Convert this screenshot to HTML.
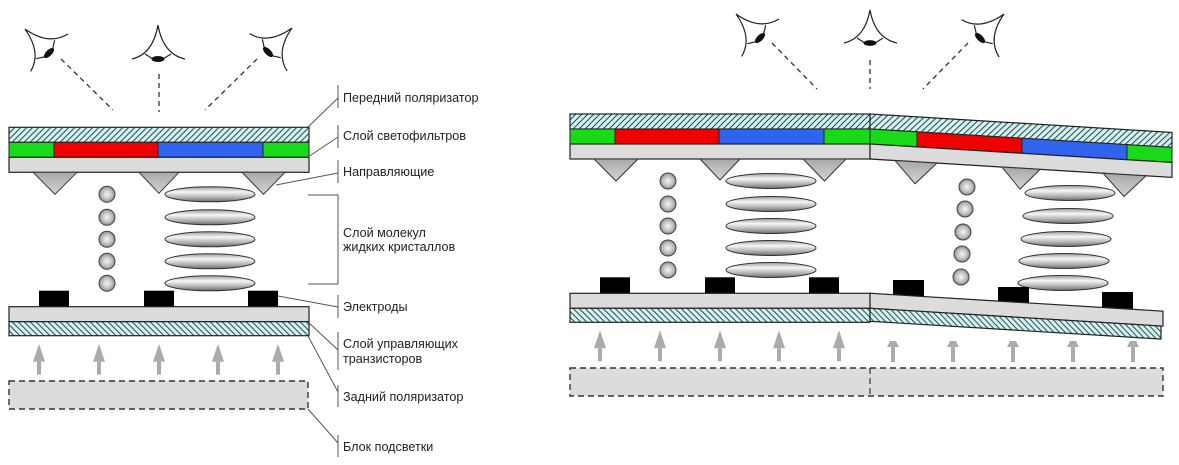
<!DOCTYPE html>
<html><head><meta charset="utf-8"><style>
html,body{margin:0;padding:0;background:#fff;}
svg{display:block;}
text{font-family:"Liberation Sans",Arial,sans-serif;font-size:12.6px;fill:#222;}
</style></head><body>
<svg width="1179" height="465" viewBox="0 0 1179 465" xmlns="http://www.w3.org/2000/svg">
<defs>
  <pattern id="hA" patternUnits="userSpaceOnUse" width="6" height="6">
    <rect width="6" height="6" fill="#cff4f4"/>
    <path d="M-1,1 L1,-1 M0,6 L6,0 M5,7 L7,5" stroke="#2a2a2a" stroke-width="0.9"/>
  </pattern>
  <pattern id="hB" patternUnits="userSpaceOnUse" width="6" height="6">
    <rect width="6" height="6" fill="#cff4f4"/>
    <path d="M-1,5 L1,7 M0,0 L6,6 M5,-1 L7,1" stroke="#2a2a2a" stroke-width="0.9"/>
  </pattern>
  <linearGradient id="tri" x1="0" y1="0" x2="0" y2="1">
    <stop offset="0" stop-color="#a9a9a9"/><stop offset="1" stop-color="#d4d4d4"/>
  </linearGradient>
  <radialGradient id="ball" cx="0.5" cy="0.5" r="0.55">
    <stop offset="0" stop-color="#f6f6f6"/><stop offset="0.6" stop-color="#bdbdbd"/><stop offset="1" stop-color="#7a7a7a"/>
  </radialGradient>
  <linearGradient id="ell" x1="0" y1="0" x2="0" y2="1">
    <stop offset="0" stop-color="#9c9c9c"/><stop offset="0.35" stop-color="#f6f6f6"/><stop offset="0.7" stop-color="#b4b4b4"/><stop offset="1" stop-color="#6c6c6c"/>
  </linearGradient>

  <g id="eye">
    <path d="M0,-34 Q-5,-5 -26,0 M0,-34 Q5,-5 27,0 M-13,-5 L-5,0 M13,-5 L5,0" fill="none" stroke="#222" stroke-width="1.2"/>
    <ellipse cx="0" cy="0" rx="6.5" ry="3" fill="#111"/>
  </g>

  <g id="topstack">
    <rect x="0" y="0" width="300" height="15" fill="url(#hA)" stroke="#222" stroke-width="1.2"/>
    <rect x="0" y="15" width="45" height="15" fill="#19d919" stroke="#222" stroke-width="1"/>
    <rect x="45" y="15" width="104" height="15" fill="#f00000" stroke="#222" stroke-width="1"/>
    <rect x="149" y="15" width="105" height="15" fill="#3064ef" stroke="#222" stroke-width="1"/>
    <rect x="254" y="15" width="46" height="15" fill="#19d919" stroke="#222" stroke-width="1"/>
    <rect x="0" y="30" width="300" height="15" fill="#dcdcdc" stroke="#222" stroke-width="1.2"/>
    <polygon points="24,45 68,45 46,67" fill="url(#tri)" stroke="#333" stroke-width="1"/>
    <polygon points="130,45 170,45 150,66" fill="url(#tri)" stroke="#333" stroke-width="1"/>
    <polygon points="233,45 276,45 254.5,67" fill="url(#tri)" stroke="#333" stroke-width="1"/>
  </g>

  <g id="lc">
    <circle cx="98" cy="67" r="8" fill="url(#ball)" stroke="#444" stroke-width="1"/>
    <circle cx="98" cy="90" r="8" fill="url(#ball)" stroke="#444" stroke-width="1"/>
    <circle cx="98" cy="112" r="8" fill="url(#ball)" stroke="#444" stroke-width="1"/>
    <circle cx="98" cy="134" r="8" fill="url(#ball)" stroke="#444" stroke-width="1"/>
    <circle cx="98" cy="156" r="8" fill="url(#ball)" stroke="#444" stroke-width="1"/>
    <ellipse cx="201" cy="67" rx="45" ry="7.5" fill="url(#ell)" stroke="#333" stroke-width="1"/>
    <ellipse cx="201" cy="90" rx="45" ry="7.5" fill="url(#ell)" stroke="#333" stroke-width="1"/>
    <ellipse cx="201" cy="112" rx="45" ry="7.5" fill="url(#ell)" stroke="#333" stroke-width="1"/>
    <ellipse cx="201" cy="134" rx="45" ry="7.5" fill="url(#ell)" stroke="#333" stroke-width="1"/>
    <ellipse cx="201" cy="156" rx="45" ry="7.5" fill="url(#ell)" stroke="#333" stroke-width="1"/>
  </g>

  <g id="bot">
    <rect x="30" y="-16" width="30" height="16" fill="#000"/>
    <rect x="135" y="-16" width="30" height="16" fill="#000"/>
    <rect x="239" y="-16" width="30" height="16" fill="#000"/>
    <rect x="0" y="0" width="300" height="15" fill="#dcdcdc" stroke="#222" stroke-width="1.2"/>
    <rect x="0" y="15" width="300" height="14" fill="url(#hB)" stroke="#222" stroke-width="1.2"/>
  </g>

  <g id="arrows" fill="#ababab">
    <polygon points="24,55 36,55 30,37"/><rect x="28" y="55" width="4" height="13"/>
    <polygon points="84,55 96,55 90,37"/><rect x="88" y="55" width="4" height="13"/>
    <polygon points="144,55 156,55 150,37"/><rect x="148" y="55" width="4" height="13"/>
    <polygon points="203,55 215,55 209,37"/><rect x="207" y="55" width="4" height="13"/>
    <polygon points="263,55 275,55 269,37"/><rect x="267" y="55" width="4" height="13"/>
  </g>
</defs>

<!-- ================= LEFT DIAGRAM ================= -->
<use href="#eye" transform="translate(49,53) rotate(-45)"/>
<use href="#eye" transform="translate(158,59)"/>
<use href="#eye" transform="translate(268,52) rotate(45)"/>
<g stroke="#333" stroke-width="1.3" stroke-dasharray="5,4" fill="none">
  <line x1="61" y1="59" x2="113" y2="110"/>
  <line x1="159" y1="74" x2="159" y2="112"/>
  <line x1="257" y1="59" x2="205" y2="110"/>
</g>

<use href="#topstack" transform="translate(9,127.3)"/>
<use href="#lc" transform="translate(9,127.3)"/>
<use href="#bot" transform="translate(9,306.7)"/>
<use href="#arrows" transform="translate(9,306.7)"/>
<rect x="9" y="381" width="299" height="28" fill="#dcdcdc" stroke="#333" stroke-width="1.4" stroke-dasharray="6,4"/>

<!-- labels -->
<g stroke="#555" stroke-width="1" fill="none">
  <line x1="338" y1="85" x2="338" y2="108"/>
  <line x1="338" y1="125" x2="338" y2="148"/>
  <line x1="338" y1="160" x2="338" y2="183"/>
  <polyline points="308,195 338,195 338,284 308,284"/>
  <line x1="338" y1="295" x2="338" y2="318"/>
  <line x1="338" y1="332" x2="338" y2="370"/>
  <line x1="338" y1="385" x2="338" y2="407"/>
  <line x1="338" y1="435" x2="338" y2="457"/>
  <line x1="308" y1="127" x2="338" y2="98"/>
  <line x1="308" y1="157" x2="338" y2="137"/>
  <line x1="276" y1="185" x2="338" y2="173"/>
  <line x1="278" y1="296" x2="338" y2="307"/>
  <line x1="308" y1="322" x2="338" y2="350"/>
  <line x1="308" y1="336" x2="338" y2="392"/>
  <line x1="308" y1="409" x2="338" y2="443"/>
</g>
<text x="343" y="102">Передний поляризатор</text>
<text x="343" y="140">Слой светофильтров</text>
<text x="343" y="176">Направляющие</text>
<text x="343" y="237">Слой молекул</text>
<text x="343" y="251">жидких кристаллов</text>
<text x="343" y="311">Электроды</text>
<text x="343" y="348">Слой управляющих</text>
<text x="343" y="363">транзисторов</text>
<text x="343" y="401">Задний поляризатор</text>
<text x="343" y="451">Блок подсветки</text>

<!-- ================= RIGHT DIAGRAM ================= -->
<use href="#eye" transform="translate(760,38) rotate(-45)"/>
<use href="#eye" transform="translate(870,43) scale(1,0.97)"/>
<use href="#eye" transform="translate(980,38) rotate(45)"/>
<g stroke="#333" stroke-width="1.3" stroke-dasharray="5,4" fill="none">
  <line x1="772" y1="43" x2="817" y2="89"/>
  <line x1="870" y1="60" x2="870" y2="89"/>
  <line x1="968" y1="43" x2="923" y2="89"/>
</g>

<!-- flat half -->
<use href="#topstack" transform="translate(570,114)"/>
<use href="#lc" transform="translate(570,114)"/>
<use href="#bot" transform="translate(570,293.3)"/>
<use href="#arrows" transform="translate(570,293.3)"/>

<!-- tilted half top -->
<g transform="matrix(1,0.061,0,1,870,114)">
  <rect x="0" y="0" width="302" height="15" fill="url(#hA)" stroke="#222" stroke-width="1.2"/>
  <rect x="0" y="15" width="47" height="15" fill="#19d919" stroke="#222" stroke-width="1"/>
  <rect x="47" y="15" width="105" height="15" fill="#f00000" stroke="#222" stroke-width="1"/>
  <rect x="152" y="15" width="105" height="15" fill="#3064ef" stroke="#222" stroke-width="1"/>
  <rect x="257" y="15" width="45" height="15" fill="#19d919" stroke="#222" stroke-width="1"/>
  <rect x="0" y="30" width="302" height="15" fill="#dcdcdc" stroke="#222" stroke-width="1.2"/>
  <polygon points="25,45 67,45 45,67" fill="url(#tri)" stroke="#333" stroke-width="1"/>
  <polygon points="132,45 170,45 150,66" fill="url(#tri)" stroke="#333" stroke-width="1"/>
  <polygon points="233,45 276,45 254,67" fill="url(#tri)" stroke="#333" stroke-width="1"/>
</g>

<!-- tilted half LC -->
<g stroke="#444" stroke-width="1" fill="url(#ball)">
  <circle cx="967" cy="187" r="8"/>
  <circle cx="965" cy="209" r="8"/>
  <circle cx="963" cy="232" r="8"/>
  <circle cx="962" cy="254" r="8"/>
  <circle cx="961" cy="277" r="8"/>
</g>
<g stroke="#333" stroke-width="1" fill="url(#ell)">
  <ellipse cx="1070" cy="193" rx="45" ry="7.5"/>
  <ellipse cx="1068" cy="216" rx="45" ry="7.5"/>
  <ellipse cx="1066" cy="239" rx="45" ry="7.5"/>
  <ellipse cx="1064" cy="261" rx="45" ry="7.5"/>
  <ellipse cx="1063" cy="283" rx="45" ry="7.5"/>
</g>

<!-- tilted half bottom -->
<rect x="893" y="280" width="31" height="18" fill="#000"/>
<rect x="998" y="287" width="31" height="18" fill="#000"/>
<rect x="1102" y="292" width="31" height="18" fill="#000"/>
<g transform="matrix(1,0.061,0,1,870,293.3)">
  <rect x="0" y="0" width="293" height="15" fill="#dcdcdc" stroke="#222" stroke-width="1.2"/>
  <rect x="0" y="15" width="291" height="13" fill="url(#hB)" stroke="#222" stroke-width="1.2"/>
</g>

<!-- tilted half arrows -->
<g fill="#ababab">
  <polygon points="890,341 896,341 899,347 887,347"/><rect x="891" y="347" width="4" height="15"/>
  <polygon points="950,341 956,341 959,347 947,347"/><rect x="951" y="347" width="4" height="15"/>
  <polygon points="1010,341 1016,341 1019,347 1007,347"/><rect x="1011" y="347" width="4" height="15"/>
  <polygon points="1070,341 1076,341 1079,347 1067,347"/><rect x="1071" y="347" width="4" height="15"/>
  <polygon points="1130,341 1136,341 1139,347 1127,347"/><rect x="1131" y="347" width="4" height="15"/>
</g>

<!-- backlight right -->
<rect x="570" y="368" width="593" height="28" fill="#dcdcdc" stroke="#333" stroke-width="1.4" stroke-dasharray="6,4"/>
<line x1="870" y1="368" x2="870" y2="396" stroke="#333" stroke-width="1.2" stroke-dasharray="6,4"/>
</svg>
</body></html>
